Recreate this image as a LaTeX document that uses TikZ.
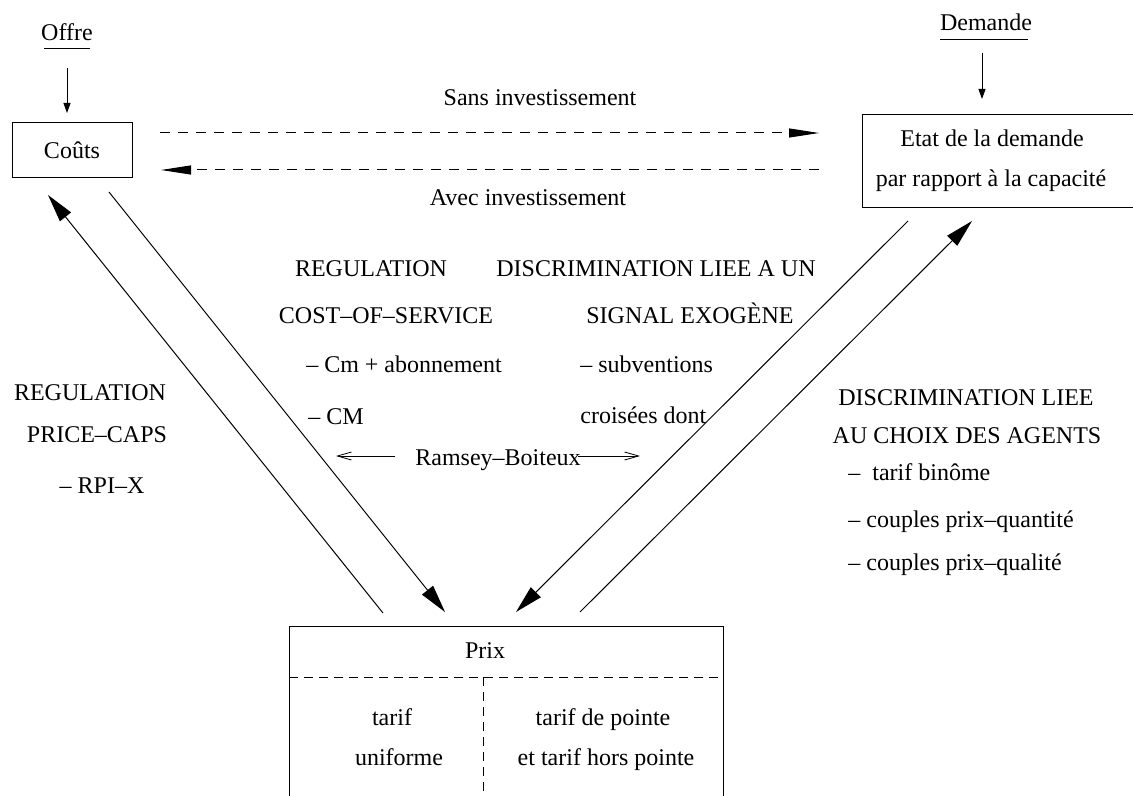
\documentclass[tikz,border=0pt]{standalone}
\usepackage{fontspec}
\setmainfont{Liberation Serif}
\usetikzlibrary{arrows.meta}

\begin{document}
\begin{tikzpicture}[x=0.5pt, y=-0.5pt,
    every node/.style={font=\fontsize{12}{14}\selectfont, inner sep=0pt},
    box/.style={draw, line width=0.5pt},
    txt/.style={anchor=base},
    txtl/.style={anchor=base west},
    bigarrow/.style={line width=0.5pt, -{Triangle[length=14pt,width=7pt]}},
    dasharrow/.style={line width=0.5pt, dash pattern=on 5pt off 4pt, -{Triangle[length=15pt,width=4.5pt]}},
    smallarrow/.style={line width=0.5pt, -{Triangle[length=5pt,width=3.5pt]}},
    barbarrow/.style={line width=0.4pt, -{Straight Barb[length=7pt,width=4pt]}},
    divider/.style={line width=0.5pt, dash pattern=on 4.5pt off 3pt}]
      \useasboundingbox (0,0) rectangle (1133,796);
      % boites
      \node[box, minimum width=60pt, minimum height=27.5pt] (couts) at (72,150.5) {Coûts};
      \node[box, anchor=north west, minimum width=140pt, minimum height=46.5pt] (etat) at (862,114) {};
      \node[txt] (etat1) at (992,147) {Etat de la demande};
      \node[txt] (etat2) at (991,187) {par rapport à la capacité};
      \node[box, anchor=north west, minimum width=217pt, minimum height=100pt] (prix) at (289,626) {};
      \node[txt] (prixlbl) at (485,658) {Prix};
      \draw[divider] (289,677) -- (723,677);
      \draw[divider] (483,677) -- (483,830);
      \node[txt] (unif1) at (392,725) {tarif};
      \node[txt] (unif2) at (399,765) {uniforme};
      \node[txt] (pointe1) at (603,725) {tarif de pointe};
      \node[txt] (pointe2) at (606,765) {et tarif hors pointe};
      % offre / demande
      \node[txt] (offre) at (67,41) {Offre};
      \draw[line width=0.5pt] (44,49) -- (90,49);
      \node[txt] (demande) at (986,31) {Demande};
      \draw[line width=0.5pt] (940,40) -- (1028,40);
      \coordinate (o1) at (67,68);
      \coordinate (o2) at (67,113);
      \coordinate (d1) at (982,53);
      \coordinate (d2) at (982,99);
      \draw[smallarrow] (o1) -- (o2);
      \draw[smallarrow] (d1) -- (d2);
      % investissement
      \coordinate (sa) at (160,133);
      \coordinate (sb) at (819,133);
      \coordinate (aa) at (819,170);
      \coordinate (ab) at (161,170);
      \draw[dasharrow] (sa) -- (sb);
      \draw[dasharrow] (aa) -- (ab);
      \node[txt] (sans) at (540,106) {Sans investissement};
      \node[txt] (avec) at (528,206) {Avec investissement};
      % grandes fleches
      \coordinate (c1) at (383,613);
      \coordinate (c2) at (48,195);
      \coordinate (c3) at (109,192);
      \coordinate (c4) at (445,612);
      \coordinate (e1) at (908,221);
      \coordinate (e2) at (516,612);
      \coordinate (e3) at (580,612);
      \coordinate (e4) at (972,221);
      \draw[bigarrow] (c1) -- (c2);
      \draw[bigarrow] (c3) -- (c4);
      \draw[bigarrow] (e1) -- (e2);
      \draw[bigarrow] (e3) -- (e4);
      % textes
      \node[txt] (pc1) at (90,400) {REGULATION};
      \node[txt] (pc2) at (97,442) {PRICE–CAPS};
      \node[txt] (pc3) at (102,493) {– RPI–X};
      \node[txt] (cs1) at (371,277) {REGULATION};
      \node[txt] (cs2) at (386,323) {COST–OF–SERVICE};
      \node[txt] (cs3) at (404,372) {– Cm + abonnement};
      \node[txtl] (cs4) at (308,424) {– CM};
      \node[txt] (se1) at (656,277) {DISCRIMINATION LIEE A UN};
      \node[txt] (se2) at (690,323) {SIGNAL EXOGÈNE};
      \node[txtl] (se3) at (580,372) {– subventions};
      \node[txtl] (se4) at (580,423) {croisées dont};
      \node[txt] (ramsey) at (498,465) {Ramsey–Boiteux};
      \coordinate (r1) at (395,456);
      \coordinate (r2) at (336,456);
      \coordinate (r3) at (578,456);
      \coordinate (r4) at (640,456);
      \draw[barbarrow] (r1) -- (r2);
      \draw[barbarrow] (r3) -- (r4);
      \node[txt] (ag1) at (966,405) {DISCRIMINATION LIEE};
      \node[txt] (ag2) at (967,443) {AU CHOIX DES AGENTS};
      \node[txtl] (ag3) at (848,480) {–\ \ tarif binôme};
      \node[txtl] (ag4) at (848,527) {– couples prix–quantité};
      \node[txtl] (ag5) at (848,570) {– couples prix–qualité};
    \end{tikzpicture}
\end{document}
